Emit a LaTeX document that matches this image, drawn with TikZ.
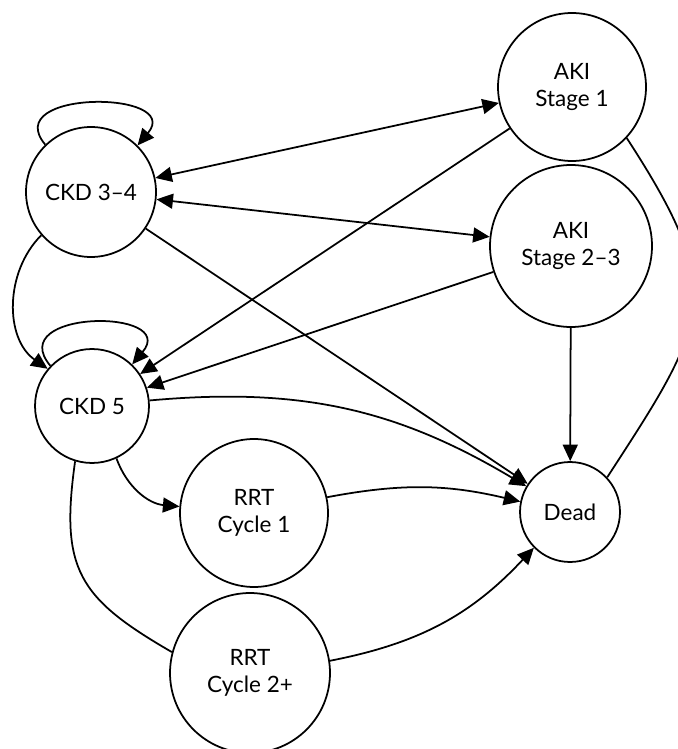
\documentclass[tikz,border=0pt]{standalone}
\usepackage{fontspec}
\setmainfont{Lato}
\usetikzlibrary{arrows.meta}
\tikzset{
	state/.style={draw, circle, inner sep=0pt, align=center, font=\fontsize{12.8}{15.3}\selectfont}
}

\begin{document}
\begin{tikzpicture}[x=0.02cm, y=-0.02cm, line width=1pt, >={Triangle[length=3.3mm,width=3mm]}]
	% frame 678 x 749, y runs down
	\clip (0,0) rectangle (678,749);
	% states
	\node[state, minimum size=2.6cm] (ckdA) at (91,192) {CKD 3–4};
	\node[state, minimum size=2.28cm] (ckdB) at (92,406) {CKD 5};
	\node[state, minimum size=2.96cm] (akiA) at (572,87) {AKI\\Stage 1};
	\node[state, minimum size=3.24cm] (akiB) at (571,246) {AKI\\Stage 2–3};
	\node[state, minimum size=2cm] (dead) at (570,512) {Dead};
	\node[state, minimum size=2.96cm] (rrtA) at (254,513) {RRT\\Cycle 1};
	\node[state, minimum size=3.2cm] (rrtB) at (250,673) {RRT\\Cycle 2+};
	
	% stay
	\draw[->] (ckdA.134) to[out=130, in=50, looseness=2] (ckdA.45);
	\draw[->] (ckdB.136) to[out=130, in=50, looseness=2.3] (ckdB.46);
	
	% CKD moves
	\draw[->] (ckdA.221) to[out=225, in=145] (ckdB.140);
	\draw[<->] (ckdA) -- (akiA);
	\draw[<->] (ckdA) -- (akiB);
	\draw[->] (ckdA) -- (dead);
	\draw[->] (ckdB) to[bend left=18] (dead);
	\draw[->] (ckdB.-65) to[out=-70, in=175] (rrtA.175);
	\draw (ckdB.-107) to[out=-98, in=150, looseness=1.3] (rrtB.165);
	
	% AKI moves
	\draw[->] (akiA) -- (ckdB);
	\draw[->] (akiB) -- (ckdB);
	\draw[->] (akiB) -- (dead);
	\draw (akiA.-43) to[out=-57, in=57, looseness=1.4] (dead.43);
	
	% RRT moves
	\draw[->] (rrtA) to[bend left=12] (dead);
	\draw[->] (rrtB) to[bend right=18] (dead);
\end{tikzpicture}
\end{document}
